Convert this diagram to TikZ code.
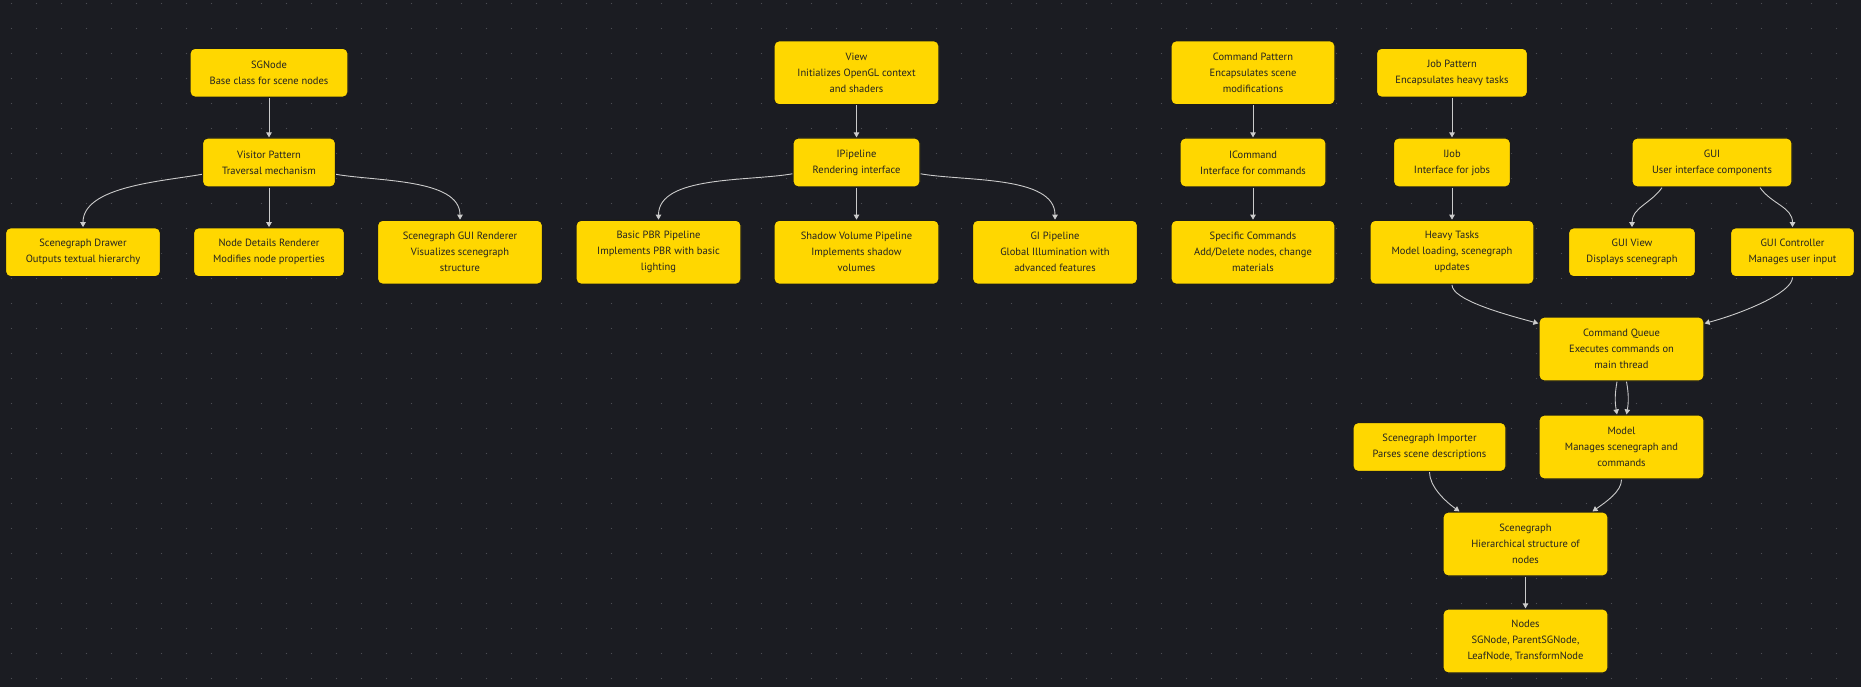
\documentclass[tikz,border=0pt]{standalone}
\usepackage{fontspec}
\setmainfont{PT Sans}
\usepackage{xcolor}
\usepackage{tikz}
\usetikzlibrary{arrows.meta}
\usetikzlibrary{positioning}

\definecolor{bgdark}{HTML}{1B1C22}
\definecolor{griddot}{HTML}{4C4D54}
\definecolor{boxgold}{HTML}{FFD700}
\definecolor{boxline}{HTML}{1C1C1C}
\definecolor{boxtext}{HTML}{222222}
\definecolor{edgegrey}{HTML}{CBCBCB}

\begin{document}
\begin{tikzpicture}[x=1pt,y=1pt,>={Triangle[length=5pt,width=5.5pt]},node distance=89.75pt]
	\tikzstyle{box}=[rectangle, rounded corners=5pt, fill=boxgold, draw=boxline, line width=1.2pt, text=boxtext, align=center, inner sep=2pt, minimum height=49pt, font=\fontsize{10.5}{16}\selectfont]
	\tikzstyle{tall}=[box, minimum height=64pt]
	\tikzstyle{link}=[->, color=edgegrey, line width=0.9pt]
	% background with dotted grid
	\fill[bgdark] (0,0) rectangle (1861,-687);
	\useasboundingbox (0,0) rectangle (1861,-687);
	\foreach \i in {0,...,74}
		\foreach \j in {0,...,27}
			\fill[griddot] (11.5+25*\i,-3.5-25*\j) circle (0.6pt);

	% scene nodes and visitors
	\node[box, minimum width=158pt]      (sgnode)   at (269,-72.75)   {SGNode\\Base class for scene nodes};
	\node[box, minimum width=133pt]      (visitor)  [below of=sgnode]  {Visitor Pattern\\Traversal mechanism};
	\node[box, minimum width=151pt]      (details)  [below of=visitor] {Node Details Renderer\\Modifies node properties};
	\node[box, minimum width=155pt]      (drawer)   at (83,-252.25)    {Scenegraph Drawer\\Outputs textual hierarchy};
	\node[tall, minimum width=165pt]     (guirend)  at (460,-252.25)   {Scenegraph GUI Renderer\\Visualizes scenegraph\\structure};

	% rendering
	\node[tall, minimum width=165pt]     (view)     at (856.5,-72.75) {View\\Initializes OpenGL context\\and shaders};
	\node[box, minimum width=127pt]      (ipipe)    [below of=view]    {IPipeline\\Rendering interface};
	\node[tall, minimum width=165pt]     (shadow)   [below of=ipipe]   {Shadow Volume Pipeline\\Implements shadow\\volumes};
	\node[tall, minimum width=165pt]     (basicpbr) at (658.5,-252.25) {Basic PBR Pipeline\\Implements PBR with basic\\lighting};
	\node[tall, minimum width=165pt]     (gipipe)   at (1055,-252.25)  {GI Pipeline\\Global Illumination with\\advanced features};

	% commands and jobs
	\node[tall, minimum width=164pt]     (cmdpat)   at (1253,-72.75)  {Command Pattern\\Encapsulates scene\\modifications};
	\node[box, minimum width=146pt]      (icmd)     [below of=cmdpat]  {ICommand\\Interface for commands};
	\node[tall, minimum width=164pt]     (specific) [below of=icmd]    {Specific Commands\\Add/Delete nodes, change\\materials};
	\node[box, minimum width=151pt]      (jobpat)   at (1452,-72.75)  {Job Pattern\\Encapsulates heavy tasks};
	\node[box, minimum width=117pt]      (ijob)     [below of=jobpat]  {IJob\\Interface for jobs};
	\node[tall, minimum width=164pt]     (heavy)    [below of=ijob]    {Heavy Tasks\\Model loading, scenegraph\\updates};

	% gui
	\node[box, minimum width=160pt]      (gui)      at (1712,-162.5)  {GUI\\User interface components};
	\node[box, minimum width=127pt]      (guiview)  at (1632,-252.25) {GUI View\\Displays scenegraph};
	\node[box, minimum width=124pt]      (guictrl)  at (1792.5,-252.25) {GUI Controller\\Manages user input};

	% model side
	\node[tall, minimum width=165pt]     (cmdqueue) at (1621.5,-349)  {Command Queue\\Executes commands on\\main thread};
	\node[tall, minimum width=165pt]     (model)    at (1621.5,-447)  {Model\\Manages scenegraph and\\commands};
	\node[box, minimum width=153pt]      (importer) at (1429.5,-447)  {Scenegraph Importer\\Parses scene descriptions};
	\node[tall, minimum width=165pt]     (scenegraph) at (1525.5,-544) {Scenegraph\\Hierarchical structure of\\nodes};
	\node[tall, minimum width=165pt]     (sgnodes)  [below of=scenegraph, node distance=97pt] {Nodes\\SGNode, ParentSGNode,\\LeafNode, TransformNode};

	\path[link]
	(sgnode) edge (visitor)
	(visitor) edge (details)
	(visitor) edge[out=190, in=90, looseness=0.8] (drawer)
	(visitor) edge[out=-10, in=90, looseness=0.8] (guirend)
	(view) edge (ipipe)
	(ipipe) edge (shadow)
	(ipipe) edge[out=190, in=90, looseness=0.8] (basicpbr)
	(ipipe) edge[out=-10, in=90, looseness=0.8] (gipipe)
	(cmdpat) edge (icmd)
	(icmd) edge (specific)
	(jobpat) edge (ijob)
	(ijob) edge (heavy)
	([xshift=-50pt]gui.south) edge[out=235, in=90] (guiview.north)
	([xshift=48pt]gui.south) edge[out=-55, in=90] (guictrl.north)
	(heavy.south) edge[out=-90, in=165, out looseness=0.4] ([yshift=-7pt]cmdqueue.north west)
	(guictrl.south) edge[out=-90, in=15, out looseness=0.4] ([yshift=-7pt]cmdqueue.north east)
	([xshift=-4.5pt]cmdqueue.south) edge[bend right=10] ([xshift=-4.5pt]model.north)
	([xshift=5pt]cmdqueue.south) edge[bend left=10] ([xshift=5pt]model.north)
	(importer.south) edge[out=-90, in=145, out looseness=0.7] ([xshift=-66pt]scenegraph.north)
	(model.south) edge[out=-90, in=35, out looseness=0.7] ([xshift=67pt]scenegraph.north)
	(scenegraph) edge (sgnodes);
\end{tikzpicture}
\end{document}
